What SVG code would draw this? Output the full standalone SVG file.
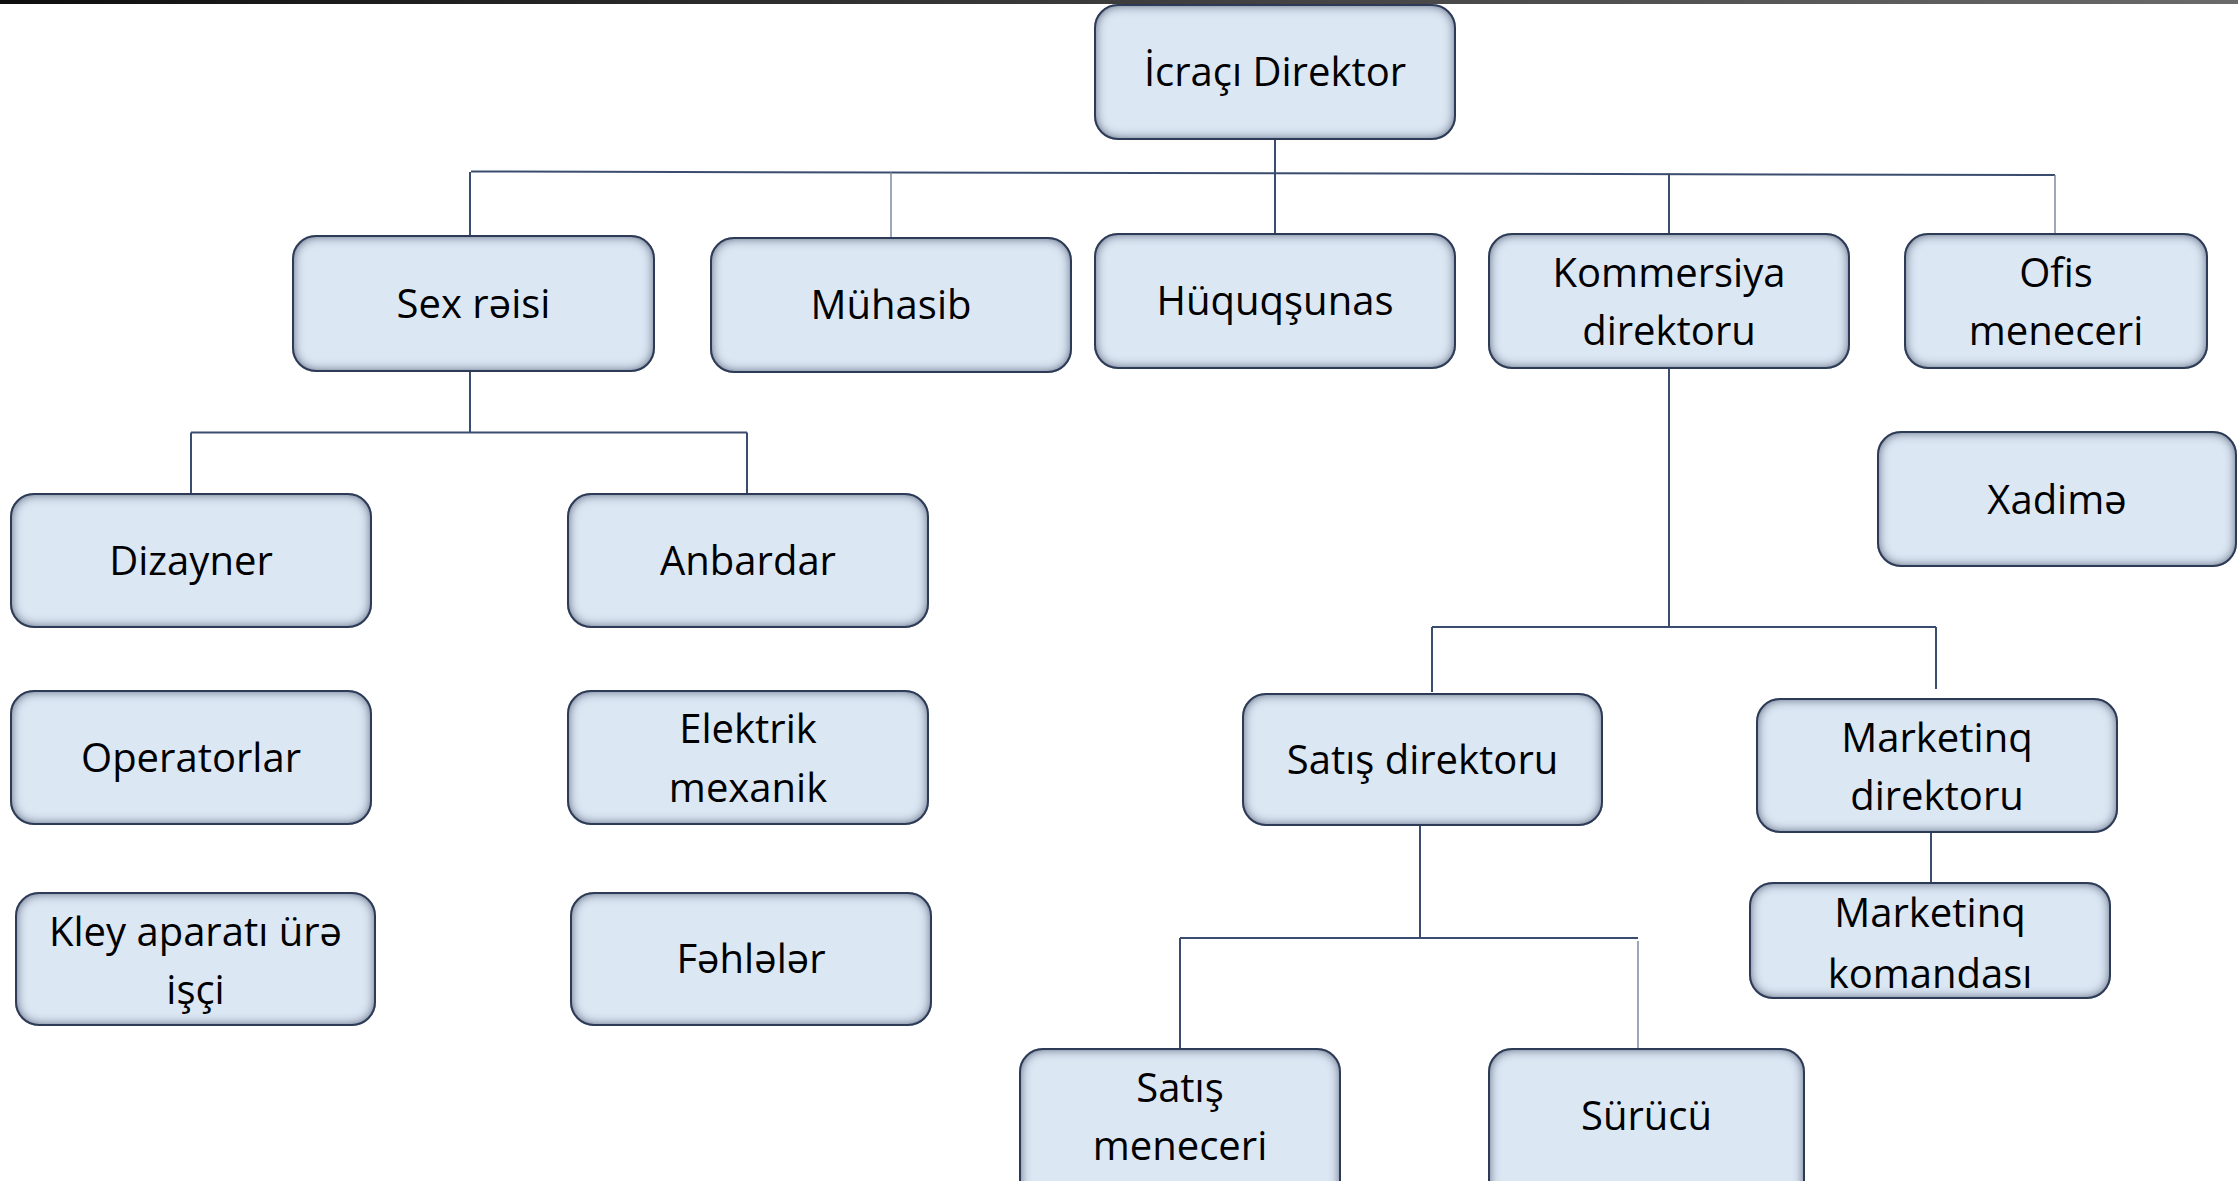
<svg xmlns="http://www.w3.org/2000/svg" width="2238" height="1181" viewBox="0 0 2238 1181">
<defs>
<linearGradient id="bar" x1="0" y1="0" x2="1" y2="0">
<stop offset="0" stop-color="#0e0e0e"/>
<stop offset="1" stop-color="#6a6a6a"/>
</linearGradient>
<filter id="inset" x="-10%" y="-20%" width="120%" height="140%" color-interpolation-filters="sRGB">
<feComponentTransfer in="SourceAlpha" result="inv"><feFuncA type="table" tableValues="1 0"/></feComponentTransfer>
<feGaussianBlur in="inv" stdDeviation="6" result="blur"/>
<feFlood flood-color="#26334d" flood-opacity="0.95" result="col"/>
<feComposite in="col" in2="blur" operator="in" result="sh"/>
<feComposite in="sh" in2="SourceAlpha" operator="in" result="inner"/>
<feMerge><feMergeNode in="SourceGraphic"/><feMergeNode in="inner"/></feMerge>
</filter>
</defs>
<style>
.box{fill:#dce7f4;stroke:#33425f;stroke-width:2;filter:url(#inset)}
.t{font-family:"Open Sans","Noto Sans","Liberation Sans",sans-serif;font-size:40px;fill:#000;text-anchor:middle}
.c{fill:none;stroke:#3b4d6e;stroke-width:2}
.l{fill:none;stroke:#7d8aa3;stroke-width:1.5}
</style>
<rect x="0" y="0" width="2238" height="4" fill="url(#bar)"/>
<g id="connectors">
<path class="c" d="M1275,139 V234"/>
<path class="c" d="M471,171.5 L2055,175"/>
<path class="c" d="M470,172 V236"/>
<path class="l" d="M891,172.5 V238"/>
<path class="c" d="M1669,173.5 V234"/>
<path class="l" d="M2055,175 V234"/>
<path class="c" d="M470,371 V432.5 M191,432.5 H747 M191,432.5 V494 M747,432.5 V494"/>
<path class="c" d="M1669,368 V627 M1432,627 H1936 M1432,627 V692 M1936,627 V689"/>
<path class="c" d="M1931,832 V883"/>
<path class="c" d="M1420,825 V938 M1180,938 H1638 M1180,938 V1049"/>
<path class="l" d="M1638,941 V1049"/>
</g>
<g id="n-icraci"><rect class="box" x="1095" y="5" width="360" height="134" rx="23"/><text class="t" x="1275" y="86">İcraçı Direktor</text></g>
<g id="n-sex"><rect class="box" x="293" y="236" width="361" height="135" rx="23"/><text class="t" x="473.5" y="318">Sex rəisi</text></g>
<g id="n-muhasib"><rect class="box" x="711" y="238" width="360" height="134" rx="23"/><text class="t" x="891" y="319">Mühasib</text></g>
<g id="n-huquq"><rect class="box" x="1095" y="234" width="360" height="134" rx="23"/><text class="t" x="1275" y="315">Hüquqşunas</text></g>
<g id="n-kommersiya"><rect class="box" x="1489" y="234" width="360" height="134" rx="23"/><text class="t" x="1669" y="287">Kommersiya</text><text class="t" x="1669" y="345">direktoru</text></g>
<g id="n-ofis"><rect class="box" x="1905" y="234" width="302" height="134" rx="23"/><text class="t" x="2056" y="287">Ofis</text><text class="t" x="2056" y="345">meneceri</text></g>
<g id="n-xadime"><rect class="box" x="1878" y="432" width="358" height="134" rx="23"/><text class="t" x="2057" y="514">Xadimə</text></g>
<g id="n-dizayner"><rect class="box" x="11" y="494" width="360" height="133" rx="23"/><text class="t" x="191" y="575">Dizayner</text></g>
<g id="n-anbardar"><rect class="box" x="568" y="494" width="360" height="133" rx="23"/><text class="t" x="748" y="575">Anbardar</text></g>
<g id="n-operatorlar"><rect class="box" x="11" y="691" width="360" height="133" rx="23"/><text class="t" x="191" y="772">Operatorlar</text></g>
<g id="n-elektrik"><rect class="box" x="568" y="691" width="360" height="133" rx="23"/><text class="t" x="748" y="743">Elektrik</text><text class="t" x="748" y="802">mexanik</text></g>
<g id="n-kley"><rect class="box" x="16" y="893" width="359" height="132" rx="23"/><text class="t" x="195.5" y="946">Kley aparatı ürə</text><text class="t" x="195.5" y="1004">işçi</text></g>
<g id="n-fehleler"><rect class="box" x="571" y="893" width="360" height="132" rx="23"/><text class="t" x="751" y="973">Fəhlələr</text></g>
<g id="n-satisdir"><rect class="box" x="1243" y="694" width="359" height="131" rx="23"/><text class="t" x="1422.5" y="774">Satış direktoru</text></g>
<g id="n-marketdir"><rect class="box" x="1757" y="699" width="360" height="133" rx="23"/><text class="t" x="1937" y="752">Marketinq</text><text class="t" x="1937" y="810">direktoru</text></g>
<g id="n-marketkom"><rect class="box" x="1750" y="883" width="360" height="115" rx="23"/><text class="t" x="1930" y="927">Marketinq</text><text class="t" x="1930" y="988">komandası</text></g>
<g id="n-satismen"><rect class="box" x="1020" y="1049" width="320" height="160" rx="23"/><text class="t" x="1180" y="1102">Satış</text><text class="t" x="1180" y="1160">meneceri</text></g>
<g id="n-surucu"><rect class="box" x="1489" y="1049" width="315" height="160" rx="23"/><text class="t" x="1646.5" y="1130">Sürücü</text></g>
</svg>
